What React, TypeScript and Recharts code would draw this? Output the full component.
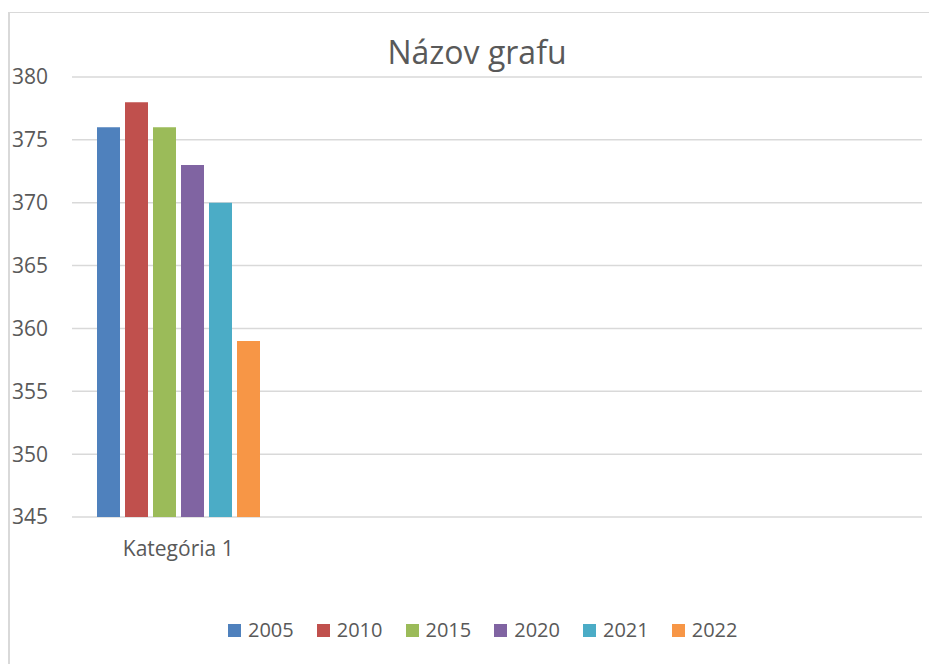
import React from "react";
import { BarChart, Bar, XAxis, YAxis, CartesianGrid, Legend } from "recharts";

const categories = ["Kategória 1", "", "", ""];
const seriesNames = ["2005", "2010", "2015", "2020", "2021", "2022"];
const seriesColors = ["#4F81BD", "#C0504D", "#9BBB59", "#8064A2", "#4BACC6", "#F79646"];
const values2005 = [376, null, null, null];
const values2010 = [378, null, null, null];
const values2015 = [376, null, null, null];
const values2020 = [373, null, null, null];
const values2021 = [370, null, null, null];
const values2022 = [359, null, null, null];
const yTicks = [345, 350, 355, 360, 365, 370, 375, 380];
const titleText = "Názov grafu";

const seriesValues = [values2005, values2010, values2015, values2020, values2021, values2022];

const data = categories.map((name, i) => {
  const row: Record<string, any> = { name };
  seriesNames.forEach((s, k) => {
    row["y" + s] = seriesValues[k][i];
  });
  return row;
});

const FONT = "'Open Sans', sans-serif";
const TEXT = "#595959";

const renderLegend = (props: any) => {
  const payload = props.payload || [];
  return (
    <div style={{ display: "flex", flexDirection: "row", gap: 23, fontFamily: FONT }}>
      {payload.map((p: any) => (
        <div key={p.value} style={{ display: "flex", alignItems: "center", height: 20 }}>
          <div style={{ width: 13, height: 13, background: p.color, marginRight: 7 }} />
          <span style={{ fontSize: 20, lineHeight: "20px", color: TEXT }}>{p.value}</span>
        </div>
      ))}
    </div>
  );
};

export default function App() {
  return (
    <div
      style={{
        position: "absolute",
        left: 0,
        top: 0,
        width: 929,
        height: 664,
        overflow: "hidden",
        background: "#fff",
        fontFamily: FONT,
      }}
    >
      <div
        style={{
          position: "absolute",
          left: 8,
          top: 12,
          width: 1000,
          height: 1000,
          borderLeft: "2px solid #d9d9d9",
          borderTop: "1.5px solid #d9d9d9",
          boxSizing: "border-box",
        }}
      />
      <div
        style={{
          position: "absolute",
          left: 0,
          width: 954,
          top: 36,
          textAlign: "center",
          fontSize: 32,
          lineHeight: "32px",
          color: TEXT,
          fontFamily: FONT,
        }}
      >
        {titleText}
      </div>
      <div style={{ position: "absolute", left: 0, top: 0 }}>
        <BarChart
          width={929}
          height={664}
          data={data}
          margin={{ top: 77, right: 7, bottom: 117, left: 0 }}
          barSize={23}
          barGap={5}
        >
          <CartesianGrid vertical={false} stroke="#d9d9d9" strokeWidth={1.5} />
          <XAxis
            dataKey="name"
            height={30}
            axisLine={false}
            tickLine={false}
            tickSize={0}
            tickMargin={24}
            tick={{ fill: TEXT, fontSize: 21, fontFamily: FONT }}
            interval={0}
          />
          <YAxis
            width={72}
            domain={[345, 380]}
            ticks={yTicks}
            allowDataOverflow
            axisLine={false}
            tickLine={false}
            tickSize={0}
            tickMargin={24}
            tick={{ fill: TEXT, fontSize: 21, fontFamily: FONT }}
          />
          <Legend
            layout="horizontal"
            verticalAlign="middle"
            align="center"
            wrapperStyle={{ top: 620, left: 228, width: 600 }}
            content={renderLegend}
          />
          {seriesNames.map((s, k) => (
            <Bar
              key={s}
              dataKey={"y" + s}
              name={s}
              fill={seriesColors[k]}
              isAnimationActive={false}
            />
          ))}
        </BarChart>
      </div>
    </div>
  );
}
